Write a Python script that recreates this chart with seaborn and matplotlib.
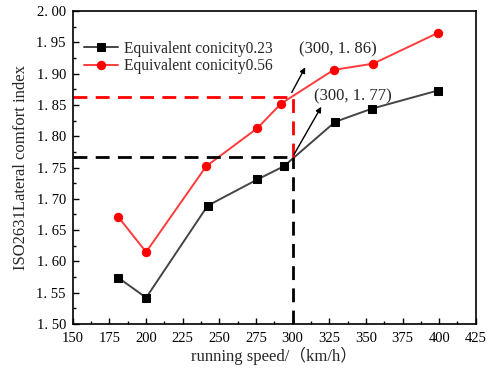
import matplotlib
matplotlib.use("Agg")
import matplotlib.pyplot as plt
from matplotlib.ticker import MultipleLocator, FuncFormatter
import seaborn as sns
import pandas as pd

speed_023 = [181, 200, 242, 276, 294, 329, 354, 399]
index_023 = [1.574, 1.542, 1.689, 1.731, 1.752, 1.823, 1.844, 1.873]
speed_056 = [181, 200, 241, 276, 292, 328, 355, 399]
index_056 = [1.671, 1.615, 1.752, 1.813, 1.852, 1.906, 1.916, 1.965]
labels = ["Equivalent conicity0.23", "Equivalent conicity0.56"]
ref_speed = 300
ref_023 = 1.767
ref_056 = 1.863

sns.set_style("ticks")
plt.rcParams['font.family'] = ['Liberation Serif', 'DejaVu Serif']

fig = plt.figure(figsize=(4.89, 3.69), dpi=100)
ax = fig.add_axes([0.149, 0.122, 0.824, 0.848])

df1 = pd.DataFrame({"speed": speed_023, "idx": index_023})
df2 = pd.DataFrame({"speed": speed_056, "idx": index_056})
sns.lineplot(data=df1, x="speed", y="idx", ax=ax, color="#444444", lw=1.4,
             marker="s", markersize=5.5, markerfacecolor="black", markeredgecolor="black",
             label=labels[0])
sns.lineplot(data=df2, x="speed", y="idx", ax=ax, color="#ff3b3b", lw=1.4,
             marker="o", markersize=6, markerfacecolor="red", markeredgecolor="red",
             label=labels[1])

# reference dashed lines
ax.plot([150, ref_speed], [ref_023, ref_023], color="black", ls=(0, (5, 3)), lw=2)
ax.plot([150, ref_speed], [ref_056, ref_056], color="red", ls=(0, (5, 3)), lw=2)
ax.plot([ref_speed, ref_speed], [1.5, ref_023], color="black", ls=(0, (5, 3)), lw=2)
ax.plot([ref_speed, ref_speed], [ref_023, ref_056], color="red", ls=(0, (5, 3)), lw=2)

ax.annotate("", xy=(320.5, 1.851), xytext=(ref_speed, ref_023),
            arrowprops=dict(arrowstyle="-|>", color="black", lw=1, mutation_scale=8))
ax.annotate("", xy=(309.5, 1.914), xytext=(298.5, 1.866),
            arrowprops=dict(arrowstyle="-|>", color="black", lw=1, mutation_scale=8))
ax.text(341, 1.864, "(300, 1. 77)", ha="center", va="center", fontsize=12)
ax.text(331, 1.938, "(300, 1. 86)", ha="center", va="center", fontsize=12)

ax.set_xlim(150, 425)
ax.set_ylim(1.5, 2.0)
ax.xaxis.set_major_locator(MultipleLocator(25))
ax.xaxis.set_minor_locator(MultipleLocator(12.5))
ax.yaxis.set_major_locator(MultipleLocator(0.05))
ax.yaxis.set_minor_locator(MultipleLocator(0.025))
ax.yaxis.set_major_formatter(FuncFormatter(lambda v, p: f"{v:.2f}".replace(".", ". ")))
ax.tick_params(which="both", direction="in", labelsize=10.5, colors="black")
ax.tick_params(axis="x", pad=6)
ax.tick_params(axis="y", pad=5)
ax.tick_params(which="major", length=4, width=1)
ax.tick_params(which="minor", length=2.5, width=1)
for s in ax.spines.values():
    s.set_linewidth(1.2)
    s.set_color("black")
    s.set_visible(True)

ax.set_xlabel("running speed/（km/h）", fontsize=12, family=['Liberation Serif', 'Noto Sans CJK SC'], labelpad=1)
ax.set_ylabel("ISO2631Lateral comfort index", fontsize=12, labelpad=5)

ax.legend(loc="upper left", frameon=False, fontsize=11.2, handlelength=2.2,
          borderaxespad=0.3, labelspacing=0.1, handletextpad=0.4, bbox_to_anchor=(0.0, 0.94))

fig.savefig("out.png", dpi=100)
